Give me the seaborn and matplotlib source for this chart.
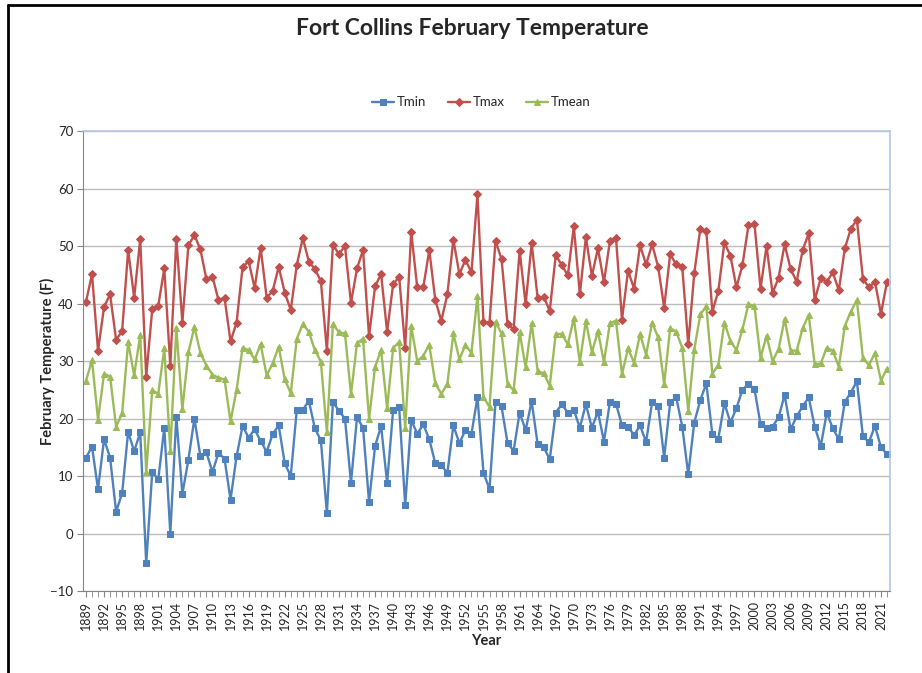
import matplotlib
matplotlib.use("Agg")
import matplotlib.pyplot as plt
import pandas as pd
import seaborn as sns
from matplotlib.lines import Line2D

# data (unor, Fort Collins)
years = list(range(1889, 2023))

tmax = [40.3, 45.1, 31.8, 39.4, 41.6, 33.7, 35.2, 49.3, 41.0, 51.2, 27.3, 39.0, 39.6, 46.1, 29.2, 51.3, 36.7, 50.1, 51.9, 49.4, 44.2, 44.7,
        40.6, 41.0, 33.4, 36.7, 46.3, 47.4, 42.7, 49.7, 41.0, 42.2, 46.4, 41.9, 38.9, 46.7, 51.4, 47.3, 46.0, 43.9, 31.8, 50.2, 48.6, 50.0,
        40.1, 46.1, 49.3, 34.3, 43.0, 45.1, 35.1, 43.4, 44.6, 32.3, 52.5, 42.8, 42.8, 49.3, 40.6, 37.0, 41.6, 51.1, 45.1, 47.6, 45.4, 59.0,
        36.8, 36.7, 50.9, 47.7, 36.4, 35.5, 49.2, 39.9, 50.5, 40.9, 41.2, 38.7, 48.4, 46.7, 44.9, 53.4, 41.6, 51.5, 44.8, 49.6, 43.7,
        50.9, 51.4, 37.2, 45.7, 42.6, 50.1, 46.8, 50.3, 46.4, 39.3, 48.6, 46.8, 46.4, 32.9, 45.3, 53.0, 52.6, 38.6, 42.2, 50.6, 48.3,
        42.8, 46.7, 53.6, 53.8, 42.6, 50.0, 41.8, 44.5, 50.3, 46.0, 43.8, 49.3, 52.2, 40.6, 44.4, 43.8, 45.4, 42.3, 49.6, 53.0, 54.6, 44.3,
        42.8, 43.8, 38.2, 43.8]

tmean = [26.6, 30.1, 19.8, 27.8, 27.3, 18.6, 20.9, 33.3, 27.5, 34.5, 10.7, 24.9, 24.3, 32.2, 14.4, 35.7, 21.6, 31.5, 35.9, 31.4, 29.2, 27.6,
         27.1, 26.8, 19.5, 25.0, 32.3, 31.9, 30.3, 32.9, 27.5, 29.6, 32.5, 26.8, 24.4, 33.9, 36.4, 35.1, 31.9, 29.9, 17.6, 36.4, 35.0, 34.8,
         24.2, 33.1, 33.9, 19.9, 29.0, 31.9, 21.8, 32.3, 33.3, 18.4, 36.1, 30.0, 30.9, 32.8, 26.1, 24.3, 26.0, 34.8, 30.3, 32.8, 31.4, 41.3,
         23.7, 22.0, 36.8, 34.8, 26.0, 24.9, 35.0, 28.9, 36.6, 28.2, 27.9, 25.7, 34.7, 34.7, 32.9, 37.4, 29.8, 37.0, 31.5, 35.2, 29.8,
         36.6, 37.0, 27.7, 32.2, 29.7, 34.7, 31.1, 36.7, 34.1, 26.0, 35.7, 35.1, 32.3, 21.3, 32.0, 38.1, 39.5, 27.8, 29.3, 36.7, 33.5,
         31.9, 35.5, 39.9, 39.5, 30.5, 34.4, 30.0, 32.1, 37.3, 31.8, 31.8, 35.7, 38.0, 29.4, 29.6, 32.3, 31.8, 29.0, 36.1, 38.6, 40.6, 30.5,
         29.3, 31.4, 26.6, 28.7]

tmin = [13.2, 15.1, 7.7, 16.4, 13.2, 3.8, 7.0, 17.7, 14.3, 17.6, -5.2, 10.7, 9.4, 18.4, 0.0, 20.3, 6.9, 12.8, 20.0, 13.4, 14.1, 10.7,
        14.0, 13.0, 5.9, 13.4, 18.7, 16.7, 18.1, 16.1, 14.2, 17.3, 18.8, 12.2, 10.0, 21.5, 21.5, 23.1, 18.3, 16.2, 3.5, 22.9, 21.3, 20.0,
        8.8, 20.2, 18.4, 5.5, 15.2, 18.7, 8.8, 21.5, 22.0, 4.9, 19.8, 17.3, 19.0, 16.4, 12.2, 11.9, 10.5, 18.8, 15.7, 18.0, 17.3, 23.7,
        10.6, 7.7, 22.9, 22.1, 15.7, 14.4, 21.0, 18.0, 23.0, 15.5, 15.0, 12.9, 21.0, 22.5, 21.0, 21.5, 18.4, 22.5, 18.4, 21.2, 16.0,
        22.9, 22.6, 18.8, 18.6, 17.1, 18.8, 15.9, 22.9, 22.1, 13.2, 22.8, 23.7, 18.6, 10.3, 19.3, 23.2, 26.1, 17.3, 16.5, 22.7, 19.3,
        21.8, 25.0, 26.0, 25.1, 19.0, 18.4, 18.6, 20.2, 24.1, 18.1, 20.4, 22.1, 23.7, 18.6, 15.2, 21.0, 18.3, 16.4, 22.9, 24.5, 26.5, 16.9,
        15.9, 18.7, 15.0, 13.8]

df = pd.DataFrame({'Year': years, 'Tmin': tmin, 'Tmax': tmax, 'Tmean': tmean})

sns.set_style('white')
plt.rcParams['font.family'] = ['Lato', 'DejaVu Sans']

fig = plt.figure(figsize=(9.22, 6.73), dpi=100)
ax = fig.add_axes([0.090, 0.1218, 0.8753, 0.6835])

# tri rady - barvy jako v Excelu
sns.lineplot(data=df, x='Year', y='Tmin', ax=ax, color='#4F81BD', marker='s', markersize=4.5,
             markeredgecolor='#4F81BD', linewidth=1.7, label='Tmin')
sns.lineplot(data=df, x='Year', y='Tmax', ax=ax, color='#C0504D', marker='D', markersize=3.8,
             markeredgecolor='#C0504D', linewidth=1.7, label='Tmax')
sns.lineplot(data=df, x='Year', y='Tmean', ax=ax, color='#9BBB59', marker='^', markersize=5,
             markeredgecolor='#9BBB59', linewidth=1.7, label='Tmean')

# osy
ax.set_xlim(1888.5, 2022.5)
ax.set_ylim(-10, 70)
ax.set_yticks(range(-10, 71, 10))
ax.set_xticks(years[::3])
ax.set_xticklabels([str(y) for y in years[::3]], rotation=90, fontsize=9)
ax.set_xticks(years, minor=True)
ax.tick_params(axis='y', labelsize=9.5, direction='out', length=4, color='#868686', left=True, pad=3)
ax.tick_params(axis='x', which='both', direction='out', length=4, color='#868686', bottom=True, pad=3)
ax.yaxis.grid(True, color='#bdbdbd', linewidth=1)
ax.xaxis.grid(False)
ax.set_axisbelow(True)

for s in ['left', 'bottom']:
    ax.spines[s].set_color('#868686')
for s in ['top', 'right']:
    ax.spines[s].set_color('#b4c7e7')
    ax.spines[s].set_linewidth(1.2)

ax.set_xlabel('Year', fontsize=10.5, fontweight='bold', labelpad=3)
ax.set_ylabel('February Temperature (F)', fontsize=10.5, fontweight='bold', labelpad=0)
ax.yaxis.set_label_coords(-0.035, 0.5)

ax.legend(loc='center', bbox_to_anchor=(0.522, 0.848), bbox_transform=fig.transFigure, ncol=3,
          frameon=False, fontsize=9.5, handlelength=1.7, handletextpad=0.2, columnspacing=1.6)

fig.text(0.512, 0.958, 'Fort Collins February Temperature', ha='center', va='center',
         fontsize=16.5, fontweight='bold')

# ramecek grafu (oriznuty vpravo a dole)
fig.add_artist(Line2D([8 / 922, 8 / 922], [0, 1 - 5 / 673], transform=fig.transFigure, color='black', lw=2))
fig.add_artist(Line2D([8 / 922, 1], [1 - 5 / 673, 1 - 5 / 673], transform=fig.transFigure, color='black', lw=2))

fig.savefig('out.png', dpi=100)
